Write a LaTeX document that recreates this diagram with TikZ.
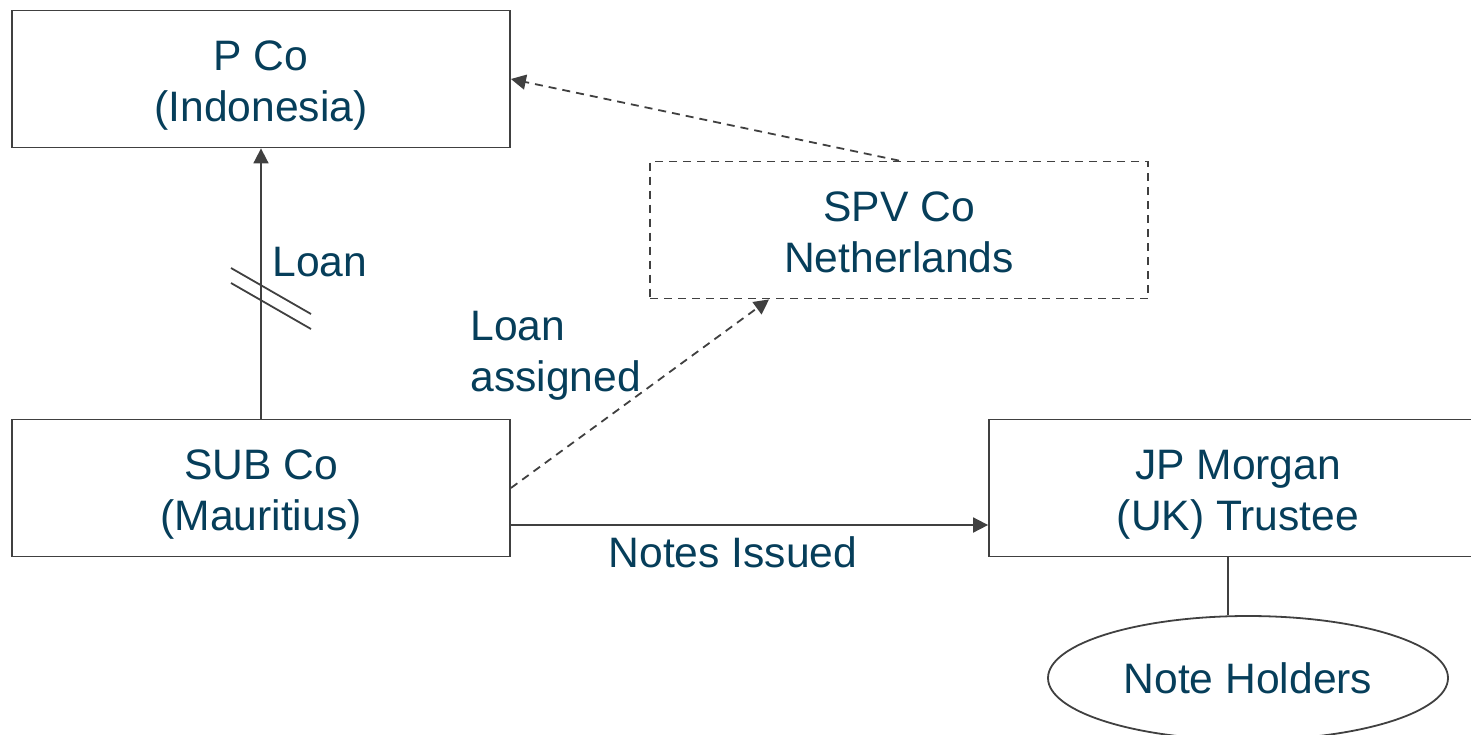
\documentclass[tikz,border=0pt]{standalone}
\usepackage{fontspec}
\setmainfont{Liberation Sans}
\usetikzlibrary{arrows.meta,shapes.geometric,calc}
\definecolor{txt}{RGB}{6,62,90}
\definecolor{ln}{RGB}{64,64,64}
% fixed top and bottom struts so every two-line box centres its text alike
\newcommand\topstrut{\rule{0pt}{21.75pt}}
\newcommand\botstrut{\rule[-5pt]{0pt}{5pt}}
\tikzset{
  box/.style={draw=ln, line width=0.9pt, rectangle, inner sep=0pt,
    minimum width=249pt, minimum height=68.5pt, align=center,
    text=txt, font=\fontsize{21.3}{25.25}\selectfont},
  dbox/.style={box, dashed, dash pattern=on 4pt off 3pt},
  oval/.style={draw=ln, line width=0.9pt, ellipse, inner sep=0pt,
    minimum width=200pt, minimum height=62pt,
    text=txt, font=\fontsize{21.3}{25.25}\selectfont},
  lbl/.style={text=txt, font=\fontsize{21.3}{25.25}\selectfont, inner sep=0pt, align=left},
  conn/.style={draw=ln, line width=0.9pt},
  arr/.style={conn, -{Triangle[length=7.5pt,width=7.5pt]}},
  darr/.style={arr, dash pattern=on 4pt off 3pt},
}
\begin{document}
\begin{tikzpicture}[x=0.5pt,y=-0.5pt]
\useasboundingbox (0,0) rectangle (1471,734);
\begin{scope}
\clip (0,0) rectangle (1471,734);
% entities
\node[box]  (pco) at (261,79)  {\topstrut P Co\\(Indonesia)\botstrut};
\node[dbox] (spv) at (899,230) {\topstrut SPV Co\\Netherlands\botstrut};
\node[box]  (sub) at (261,488) {\topstrut SUB Co\\(Mauritius)\botstrut};
\node[box]  (jp)  at (1238,488) {\topstrut JP Morgan\\(UK) Trustee\botstrut};
\node[oval] (nh)  at (1248,678) {Note Holders};

% loan from SUB Co up to P Co, marked as broken
\draw[arr] (sub.north) -- (pco.south);
\draw[conn] (231,268) -- (311,314);
\draw[conn] (231,283) -- (311,329);
\node[lbl, anchor=west] (loan) at (272,262) {Loan};

% loan assigned to the SPV, and the SPV's link back to P Co
\coordinate (spvin) at ($(spv.south west)!0.24!(spv.south east)$);
\draw[darr] (sub.east) -- (spvin);
\draw[darr] (spv.north) -- (pco.east);
\node[lbl, anchor=north west] (assigned) at (470,311) {Loan\\assigned};

% notes issued to the trustee
\coordinate (nstart) at ($(sub.east)+(0,37)$);
\draw[arr] (nstart) -- (nstart -| jp.west);
\node[lbl] (notes) at (733,552) {Notes Issued};

% trustee to note holders
\coordinate (jpb) at (1228,556);
\draw[conn] (jpb) -- (jpb |- nh.north);
\end{scope}
\end{tikzpicture}
\end{document}
